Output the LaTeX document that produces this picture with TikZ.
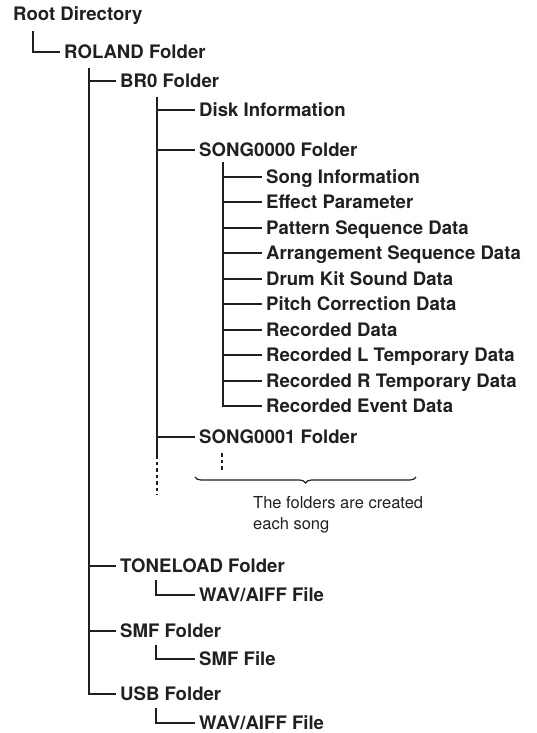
\documentclass[tikz,border=0pt]{standalone}
\usepackage{fontspec}
\setmainfont{TeX Gyre Heros}
\usetikzlibrary{decorations.pathreplacing}
\definecolor{ink}{HTML}{231F20}

\begin{document}
\begin{tikzpicture}[
    x=1pt, y=-1pt,
    entry/.style={anchor=west, inner xsep=4pt, inner ysep=0pt, text height=13.2pt, text depth=0pt, text=ink, font=\bfseries\fontsize{18.6}{21}\selectfont},
    link/.style={draw=ink, line width=1.6pt},
    more/.style={link, dash pattern=on 3.5pt off 3pt},
    note/.style={align=left, inner sep=0pt, text=ink, font=\fontsize{16.5}{21}\selectfont}
]
    \useasboundingbox (0,0) rectangle (537,733);

    % Ordner und Dateien
    \node [entry] (root) at (9,14) {Root Directory};
    \node [entry] (roland) at (60,52) {ROLAND Folder};
    \node [entry] (brzero) at (116,81) {BR0 Folder};
    \node [entry] (disk) at (195,110) {Disk Information};
    \node [entry] (songa) at (195,150) {SONG0000 Folder};
    \foreach \name/\txt/\ypos in {
        songinfo/Song Information/177, effect/Effect Parameter/202,
        pattern/Pattern Sequence Data/228, arrange/Arrangement Sequence Data/253,
        drumkit/Drum Kit Sound Data/279, pitch/Pitch Correction Data/304,
        recdata/Recorded Data/330, rectmpl/Recorded L Temporary Data/355,
        rectmpr/Recorded R Temporary Data/381, recevent/Recorded Event Data/406}
        \node [entry] (\name) at (262,\ypos) {\txt};
    \node [entry] (songb) at (195,437) {SONG0001 Folder};
    \node [entry] (toneload) at (116,566) {TONELOAD Folder};
    \node [entry] (twav) at (195,595) {WAV/AIFF File};
    \node [entry] (smf) at (116,631) {SMF Folder};
    \node [entry] (smffile) at (195,659) {SMF File};
    \node [entry] (usb) at (116,694) {USB Folder};
    \node [entry] (uwav) at (195,723) {WAV/AIFF File};

    % Verbindungslinien
    \coordinate (root-t) at ([shift={(24,17)}]root.west);
    \draw [link] (root-t) |- (roland.west);
    \coordinate (roland-t) at ([shift={(29,16)}]roland.west);
    \foreach \c in {brzero,toneload,smf,usb}
        \draw [link] (roland-t) |- (\c.west);
    \coordinate (brzero-t) at ([shift={(41,16)}]brzero.west);
    \foreach \c in {disk,songa,songb}
        \draw [link] (brzero-t) |- (\c.west);
    \draw [link] (songb.west -| brzero-t) -- ++(0,18) coordinate (brzero-s);
    \draw [more] (brzero-s) -- ++(0,40);
    \coordinate (songa-t) at ([shift={(28,12)}]songa.west);
    \foreach \c in {songinfo,effect,pattern,arrange,drumkit,pitch,recdata,rectmpl,rectmpr,recevent}
        \draw [link] (songa-t) |- (\c.west);
    \draw [more] ([shift={(27,16)}]songb.west) -- ++(0,17);
    \foreach \p/\c in {toneload/twav,smf/smffile,usb/uwav}
        \draw [link] ([shift={(40,14)}]\p.west) |- (\c.west);

    % Klammer mit Hinweis
    \coordinate (bracel) at (195,477);
    \coordinate (bracer) at (416,477);
    \draw [link, line width=1.2pt, decorate, decoration={brace, mirror, amplitude=6pt}] (bracel) -- (bracer);
    \node [note, anchor=north west] (hint) at (253,496) {The folders are created\\each song};
\end{tikzpicture}
\end{document}
